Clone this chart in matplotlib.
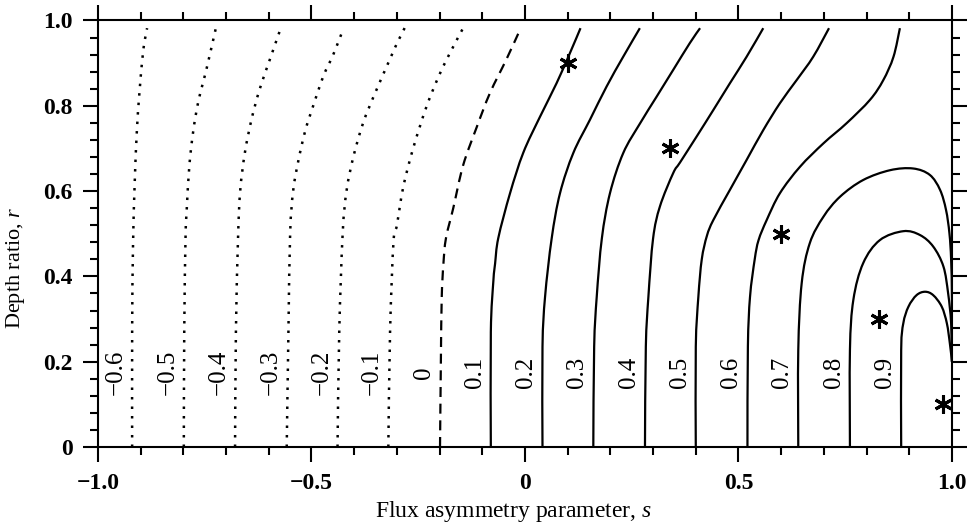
import matplotlib
matplotlib.use("Agg")
import matplotlib.pyplot as plt
import numpy as np
from matplotlib.path import Path
from matplotlib.patches import PathPatch
from matplotlib.ticker import MultipleLocator

plt.rcParams["font.family"] = "Liberation Serif"
plt.rcParams["mathtext.fontset"] = "custom"
plt.rcParams["mathtext.rm"] = "Liberation Serif"
plt.rcParams["mathtext.it"] = "Liberation Serif:italic"

# contour levels of the flux function
levels = [-0.6, -0.5, -0.4, -0.3, -0.2, -0.1, 0.0, 0.1, 0.2, 0.3, 0.4, 0.5, 0.6, 0.7, 0.8, 0.9]

# (s, r) points along each contour, bottom to top
c_m06 = [(-0.920, 0.0), (-0.920, 0.27), (-0.918, 0.47), (-0.914, 0.62), (-0.909, 0.74),
         (-0.903, 0.83), (-0.894, 0.93), (-0.885, 0.982)]
c_m05 = [(-0.799, 0.0), (-0.798, 0.27), (-0.795, 0.49), (-0.792, 0.56), (-0.786, 0.66),
         (-0.777, 0.74), (-0.765, 0.81), (-0.745, 0.89), (-0.724, 0.982)]
c_m04 = [(-0.679, 0.0), (-0.677, 0.27), (-0.672, 0.49), (-0.667, 0.60), (-0.656, 0.69),
         (-0.640, 0.77), (-0.621, 0.84), (-0.597, 0.91), (-0.572, 0.982)]
c_m03 = [(-0.558, 0.0), (-0.554, 0.27), (-0.550, 0.50), (-0.543, 0.60), (-0.531, 0.67),
         (-0.515, 0.74), (-0.496, 0.80), (-0.472, 0.87), (-0.449, 0.92), (-0.426, 0.979)]
c_m02 = [(-0.439, 0.0), (-0.435, 0.27), (-0.427, 0.50), (-0.418, 0.60), (-0.402, 0.68),
         (-0.379, 0.76), (-0.351, 0.83), (-0.316, 0.91), (-0.300, 0.946), (-0.281, 0.984)]
c_m01 = [(-0.320, 0.0), (-0.316, 0.27), (-0.308, 0.48), (-0.300, 0.52), (-0.285, 0.61),
         (-0.262, 0.70), (-0.230, 0.80), (-0.199, 0.876), (-0.172, 0.931), (-0.145, 0.982)]
c_0 = [(-0.199, 0.0), (-0.197, 0.20), (-0.195, 0.35), (-0.191, 0.43), (-0.185, 0.49),
       (-0.168, 0.56), (-0.145, 0.66), (-0.113, 0.75), (-0.082, 0.83), (-0.043, 0.91),
       (-0.010, 0.982)]
c_01 = [(-0.080, 0.0), (-0.080, 0.27), (-0.074, 0.39), (-0.070, 0.43), (-0.0625, 0.49),
        (-0.035, 0.595), (-0.004, 0.69), (0.035, 0.774), (0.074, 0.853), (0.105, 0.923),
        (0.130, 0.982)]
c_02 = [(0.041, 0.0), (0.041, 0.235), (0.047, 0.352), (0.0625, 0.489), (0.082, 0.595),
        (0.113, 0.689), (0.152, 0.767), (0.191, 0.845), (0.230, 0.915), (0.269, 0.982)]
c_03 = [(0.160, 0.0), (0.162, 0.235), (0.168, 0.352), (0.180, 0.489), (0.199, 0.595),
        (0.230, 0.689), (0.269, 0.758), (0.308, 0.821), (0.347, 0.884), (0.386, 0.947),
        (0.410, 0.982)]
c_04 = [(0.281, 0.0), (0.283, 0.235), (0.289, 0.352), (0.300, 0.489), (0.316, 0.564),
        (0.347, 0.642), (0.363, 0.667), (0.402, 0.728), (0.441, 0.790), (0.480, 0.853),
        (0.519, 0.915), (0.558, 0.982)]
c_05 = [(0.400, 0.0), (0.400, 0.235), (0.406, 0.352), (0.414, 0.44), (0.426, 0.495),
        (0.441, 0.532), (0.480, 0.603), (0.519, 0.673), (0.558, 0.743), (0.597, 0.806),
        (0.636, 0.860), (0.675, 0.915), (0.712, 0.982)]
c_06 = [(0.521, 0.0), (0.522, 0.235), (0.527, 0.352), (0.538, 0.44), (0.547, 0.485),
        (0.566, 0.532), (0.597, 0.595), (0.644, 0.657), (0.699, 0.712), (0.753, 0.759),
        (0.808, 0.814), (0.839, 0.860), (0.863, 0.915), (0.878, 0.982)]
c_07 = [(0.640, 0.0), (0.640, 0.227), (0.648, 0.384), (0.667, 0.478), (0.699, 0.540),
        (0.738, 0.587), (0.792, 0.626), (0.855, 0.649), (0.909, 0.653), (0.948, 0.638),
        (0.972, 0.603), (0.986, 0.556), (0.994, 0.501), (0.998, 0.439), (1.0, 0.345),
        (1.0, 0.20)]
c_08 = [(0.761, 0.0), (0.761, 0.227), (0.769, 0.345), (0.792, 0.431), (0.831, 0.485),
        (0.886, 0.506), (0.925, 0.497), (0.956, 0.470), (0.980, 0.423), (0.991, 0.360),
        (0.998, 0.290), (1.0, 0.20)]
c_09 = [(0.881, 0.0), (0.881, 0.227), (0.886, 0.290), (0.898, 0.329), (0.917, 0.356),
        (0.937, 0.364), (0.956, 0.356), (0.976, 0.329), (0.988, 0.290), (0.995, 0.243),
        (1.0, 0.20)]

traces = [c_m06, c_m05, c_m04, c_m03, c_m02, c_m01, c_0, c_01, c_02, c_03,
          c_04, c_05, c_06, c_07, c_08, c_09]

# marked points (asterisks)
star_s = [0.10, 0.34, 0.60, 0.83, 0.98]
star_r = [0.90, 0.70, 0.50, 0.30, 0.10]

x_ticks = [-1.0, -0.5, 0.0, 0.5, 1.0]
x_ticklabels = ["\u22121.0", "\u22120.5", "0", "0.5", "1.0"]
y_ticks = [0.0, 0.2, 0.4, 0.6, 0.8, 1.0]
y_ticklabels = ["0", "0.2", "0.4", "0.6", "0.8", "1.0"]


def level_text(v):
    if abs(v) < 1e-9:
        return "0"
    return ("%.1f" % v).replace("-", "\u2212")


def smooth_path(pts):
    # Catmull-Rom through the traced points, written as cubic Bezier segments
    p = np.asarray(pts, dtype=float)
    ext = np.vstack([p[0], p, p[-1]])
    verts = [p[0]]
    codes = [Path.MOVETO]
    for i in range(1, len(ext) - 2):
        p0, p1, p2, p3 = ext[i - 1], ext[i], ext[i + 1], ext[i + 2]
        verts += [p1 + (p2 - p0) / 6.0, p2 - (p3 - p1) / 6.0, p2]
        codes += [Path.CURVE4] * 3
    return Path(verts, codes)


fig = plt.figure(figsize=(9.75, 5.31), dpi=100)
ax = fig.add_axes([0.1005, 0.1582, 0.8759, 0.8032])

for lev, pts in zip(levels, traces):
    if lev < 0:
        ls = (0, (1, 2.8))
        lw = 1.8
    elif lev == 0:
        ls = (0, (4.5, 3.0))
        lw = 1.6
    else:
        ls = "-"
        lw = 1.6
    ax.add_patch(PathPatch(smooth_path(pts), fill=False, edgecolor="black", lw=lw,
                           linestyle=ls, capstyle="butt"))
    # level label sits just left of the foot of the line
    ax.text(pts[0][0] - 0.038, 0.175, level_text(lev), rotation=90, ha="center",
            va="center", fontsize=18)

ax.plot(star_s, star_r, linestyle="None", marker=(6, 2, 0), markersize=13,
        markeredgewidth=2.2, color="black")

ax.set_xlim(-1, 1)
ax.set_ylim(0, 1)
ax.set_xticks(x_ticks, x_ticklabels, fontweight="bold")
ax.set_yticks(y_ticks, y_ticklabels, fontweight="bold")
ax.xaxis.set_minor_locator(MultipleLocator(0.1))
ax.yaxis.set_minor_locator(MultipleLocator(0.04))
ax.tick_params(which="both", direction="out", top=True, right=True, width=1.5,
               labelsize=17)
ax.tick_params(which="major", length=11, pad=7)
ax.tick_params(axis="x", which="major", pad=8)
ax.tick_params(which="minor", length=5.5)
for sp in ax.spines.values():
    sp.set_linewidth(1.5)

ax.set_xlabel("Flux asymmetry parameter, $s$", fontsize=17)
ax.set_ylabel("Depth ratio, $r$", fontsize=16)
ax.xaxis.set_label_coords(0.487, -0.122)
ax.yaxis.set_label_coords(-0.083, 0.42)

fig.savefig("out.png", dpi=100)
